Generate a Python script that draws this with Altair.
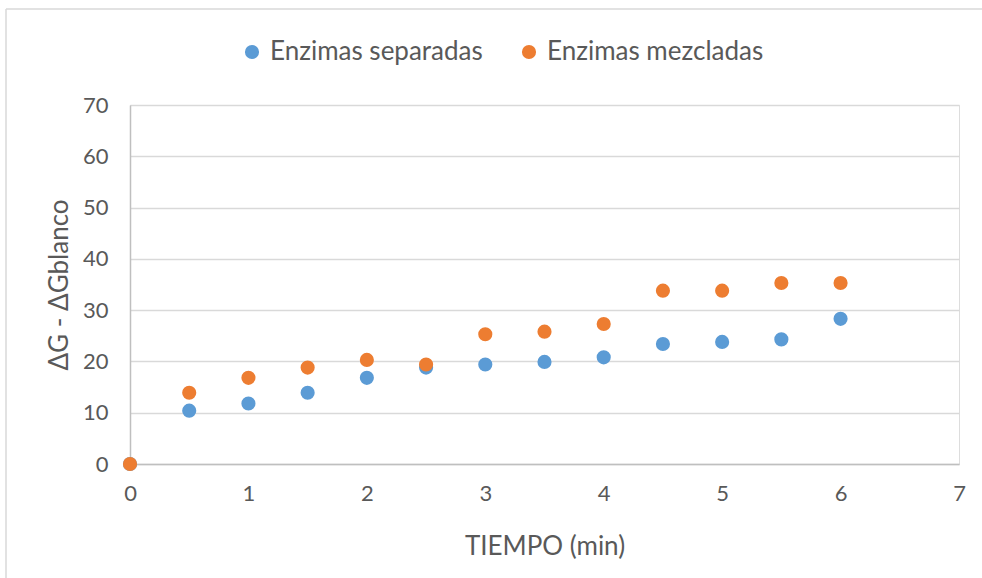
import altair as alt
import pandas as pd

# Time points (min) and measured ΔG - ΔGblanco for each enzyme set-up
tiempo = [0, 0.5, 1, 1.5, 2, 2.5, 3, 3.5, 4, 4.5, 5, 5.5, 6]
separadas = [0, 10.4, 11.8, 13.9, 16.8, 18.8, 19.4, 19.9, 20.8, 23.4, 23.8, 24.3, 28.3]
mezcladas = [0, 13.9, 16.8, 18.8, 20.3, 19.4, 25.3, 25.8, 27.3, 33.8, 33.8, 35.3, 35.3]

series_names = ["Enzimas separadas", "Enzimas mezcladas"]
series_colors = ["#5B9BD5", "#ED7D31"]

df = pd.concat([
    pd.DataFrame({"t": tiempo, "v": separadas, "serie": series_names[0]}),
    pd.DataFrame({"t": tiempo, "v": mezcladas, "serie": series_names[1]}),
])

FONT = "Lato"
GREY = "#595959"

points = alt.Chart(df).mark_circle(size=200, opacity=1).encode(
    x=alt.X("t:Q", title="TIEMPO (min)",
            scale=alt.Scale(domain=[0, 7], nice=False),
            axis=alt.Axis(values=list(range(0, 8)), grid=False, ticks=False,
                          domain=True, domainColor="#bfbfbf", domainWidth=1.5,
                          labelFlush=False, labelPadding=19, labelFontSize=22,
                          labelColor=GREY, titleFontSize=26, titleColor=GREY,
                          titleFontWeight="normal", titlePadding=29)),
    y=alt.Y("v:Q", title="ΔG - ΔGblanco",
            scale=alt.Scale(domain=[0, 70], nice=False),
            axis=alt.Axis(values=list(range(0, 71, 10)), grid=True, gridColor="#d9d9d9",
                          gridWidth=1.5, ticks=False, domain=True, domainColor="#bfbfbf",
                          domainWidth=1.5, labelFlush=False, labelPadding=22,
                          labelFontSize=22, labelColor=GREY, titleFontSize=26,
                          titleColor=GREY, titleFontWeight="normal", titleX=-58)),
    color=alt.Color("serie:N", sort=series_names,
                    scale=alt.Scale(domain=series_names, range=series_colors),
                    legend=alt.Legend(title=None, orient="none", direction="horizontal",
                                      legendX=109, legendY=-66, symbolType="circle",
                                      symbolSize=200, symbolStrokeWidth=0,
                                      labelFontSize=26, labelColor=GREY, labelLimit=0,
                                      columnPadding=33, labelOffset=5)),
    order=alt.Order("serie:N", sort="descending"),
)

# Light frame around the chart area (top and left edges)
frame_top = alt.Chart(pd.DataFrame({"k": [0]})).mark_rule(color="#d9d9d9", strokeWidth=1.5).encode(
    x=alt.value(-124), x2=alt.value(860), y=alt.value(-96))
frame_left = alt.Chart(pd.DataFrame({"k": [0]})).mark_rule(color="#d9d9d9", strokeWidth=1.5).encode(
    x=alt.value(-124), y=alt.value(-96), y2=alt.value(480))

chart = alt.layer(frame_top, frame_left, points).properties(
    width=829, height=359,
    autosize=alt.AutoSizeParams(type="none"),
    padding={"left": 130, "top": 105, "right": 23, "bottom": 114},
    background="white",
).configure_view(stroke=None).configure(font=FONT)

chart.save("out.html", embed_options={"renderer": "svg", "actions": False})
